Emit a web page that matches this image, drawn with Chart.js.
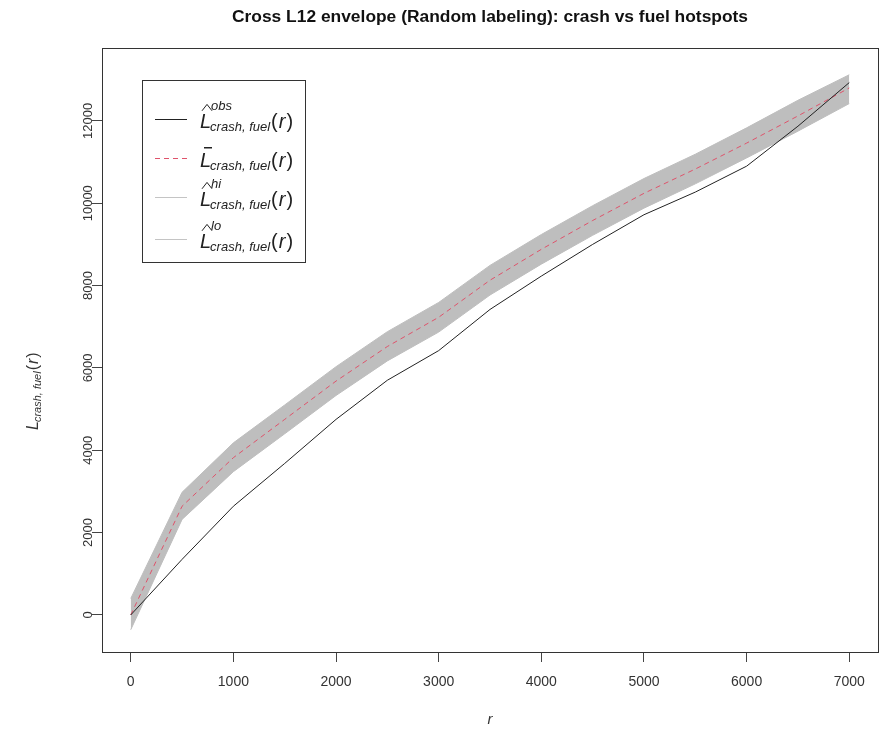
<!DOCTYPE html>
<html>
<head>
<meta charset="utf-8">
<script src="https://cdn.jsdelivr.net/npm/chart.js@4.4.1/dist/chart.umd.min.js"></script>
<style>
  html, body { margin: 0; padding: 0; background: #fff; }
  #wrap { width: 882px; height: 731px; }
</style>
</head>
<body>
<div id="wrap"><canvas id="chart" width="882" height="731"></canvas></div>
<script>
// distance r and the L12 curves
const rValues    = [0, 500, 1000, 1500, 2000, 2500, 3000, 3500, 4000, 4500, 5000, 5500, 6000, 6500, 7000];
const obsValues  = [0, 1350, 2640, 3680, 4750, 5700, 6420, 7420, 8230, 9000, 9720, 10270, 10900, 11870, 12930];
const meanValues = [0, 2640, 3820, 4750, 5680, 6520, 7230, 8130, 8880, 9580, 10240, 10830, 11460, 12120, 12800];
const hiValues   = [400, 2980, 4180, 5100, 6030, 6880, 7590, 8490, 9240, 9940, 10600, 11190, 11830, 12500, 13120];
const loValues   = [-360, 2320, 3480, 4400, 5330, 6170, 6870, 7770, 8520, 9220, 9880, 10470, 11100, 11750, 12420];

const xTicks = [0, 1000, 2000, 3000, 4000, 5000, 6000, 7000];
const yTicks = [0, 2000, 4000, 6000, 8000, 10000, 12000];

const titleText = 'Cross L12 envelope (Random labeling): crash vs fuel hotspots';
const FONT = '"Liberation Sans", Arial, sans-serif';

function pts(ys) {
    return rValues.map((r, i) => ({ x: r, y: ys[i] }));
}

// L with optional hat / bar, superscript, subscript and (r)
function drawL(ctx, x, base, opts) {
    const big = opts.big, small = opts.small;
    ctx.textAlign = 'left';
    ctx.textBaseline = 'alphabetic';
    ctx.font = 'italic ' + big + 'px ' + FONT;
    ctx.fillText('L', x, base);
    const lw = ctx.measureText('L').width;
    let right = x + lw;
    if (opts.sup) {
        ctx.font = 'italic ' + small + 'px ' + FONT;
        ctx.fillText(opts.sup, x + lw * 1.0, base - big * 0.88);
        // hat
        ctx.beginPath();
        ctx.lineWidth = 1;
        ctx.moveTo(x + 2, base - big * 0.86);
        ctx.lineTo(x + 7, base - big * 1.18);
        ctx.lineTo(x + 12, base - big * 0.86);
        ctx.stroke();
    }
    if (opts.bar) {
        ctx.fillRect(x + 4, base - big * 1.0, 8, 1.5);
    }
    ctx.font = 'italic ' + small + 'px ' + FONT;
    ctx.fillText(opts.sub, right - 1, base + small * 0.25);
    right = right - 1 + ctx.measureText(opts.sub).width + 1;
    ctx.font = big + 'px ' + FONT;
    ctx.fillText('(', right, base);
    right += ctx.measureText('(').width;
    ctx.font = 'italic ' + big + 'px ' + FONT;
    ctx.fillText('r', right + 1, base);
    right += ctx.measureText('r').width + 2;
    ctx.font = big + 'px ' + FONT;
    ctx.fillText(')', right, base);
    right += ctx.measureText(')').width;
    return right;
}

const rDecor = {
    id: 'rDecor',
    afterDraw(chart) {
        const ctx = chart.ctx;
        const a = chart.chartArea;
        ctx.save();
        // plot frame
        ctx.strokeStyle = '#333';
        ctx.lineWidth = 1;
        ctx.strokeRect(Math.round(a.left) + 0.5, Math.round(a.top) + 0.5,
            Math.round(a.right - a.left), Math.round(a.bottom - a.top));

        // title
        ctx.fillStyle = '#111';
        ctx.font = 'bold 17.4px ' + FONT;
        ctx.textAlign = 'center';
        ctx.textBaseline = 'alphabetic';
        ctx.fillText(titleText, (a.left + a.right) / 2, 22);

        // x axis title
        ctx.font = 'italic 15px ' + FONT;
        ctx.fillStyle = '#333';
        ctx.fillText('r', (a.left + a.right) / 2, 724);

        // y axis title (rotated)
        ctx.save();
        ctx.translate(38, 385);
        ctx.rotate(-Math.PI / 2);
        ctx.fillStyle = '#333';
        ctx.strokeStyle = '#333';
        drawL(ctx, -45, 0, { big: 16, small: 11, sub: 'crash, fuel' });
        ctx.restore();

        // legend
        ctx.fillStyle = '#fff';
        ctx.fillRect(142, 80, 163, 182);
        ctx.strokeStyle = '#333';
        ctx.strokeRect(142.5, 80.5, 163, 182);
        const rows = [
            { y: 119, color: '#222', dash: [], sup: 'obs' },
            { y: 158, color: '#DF536B', dash: [5, 4], bar: true },
            { y: 197, color: '#c4c4c4', dash: [], sup: 'hi' },
            { y: 239, color: '#c4c4c4', dash: [], sup: 'lo' }
        ];
        rows.forEach(row => {
            ctx.beginPath();
            ctx.strokeStyle = row.color;
            ctx.lineWidth = 1;
            ctx.setLineDash(row.dash);
            ctx.moveTo(155, row.y + 0.5);
            ctx.lineTo(187, row.y + 0.5);
            ctx.stroke();
            ctx.setLineDash([]);
            ctx.fillStyle = '#222';
            ctx.strokeStyle = '#222';
            drawL(ctx, 200, row.y + 9, { big: 20, small: 13, sub: 'crash, fuel', sup: row.sup, bar: row.bar });
        });
        ctx.restore();
    }
};

new Chart(document.getElementById('chart'), {
    type: 'line',
    data: {
        datasets: [
            {
                label: 'obs',
                data: pts(obsValues),
                borderColor: '#222',
                borderWidth: 1,
                pointRadius: 0,
                fill: false,
                order: 0
            },
            {
                label: 'mean',
                data: pts(meanValues),
                borderColor: '#DF536B',
                borderWidth: 1,
                borderDash: [5, 4],
                pointRadius: 0,
                fill: false,
                order: 1
            },
            {
                label: 'hi',
                data: pts(hiValues),
                borderColor: '#bebebe',
                backgroundColor: '#bebebe',
                borderWidth: 1,
                pointRadius: 0,
                fill: '+1',
                order: 2
            },
            {
                label: 'lo',
                data: pts(loValues),
                borderColor: '#bebebe',
                borderWidth: 1,
                pointRadius: 0,
                fill: false,
                order: 3
            }
        ]
    },
    options: {
        responsive: false,
        animation: false,
        devicePixelRatio: 1,
        layout: { padding: { top: 48, right: 4, left: 0, bottom: 0 } },
        plugins: {
            legend: { display: false },
            title: { display: false },
            tooltip: { enabled: false }
        },
        elements: { line: { tension: 0 } },
        scales: {
            x: {
                type: 'linear',
                min: -280,
                max: 7280,
                afterBuildTicks: s => { s.ticks = xTicks.map(v => ({ value: v })); },
                afterFit: s => { s.height = 79; },
                grid: { drawOnChartArea: false, drawTicks: true, tickLength: 10, color: '#444' },
                border: { display: false },
                ticks: {
                    padding: 12,
                    maxRotation: 0,
                    color: '#333',
                    font: { family: FONT, size: 14 },
                    callback: v => String(v)
                }
            },
            y: {
                type: 'linear',
                min: -900,
                max: 13770,
                afterBuildTicks: s => { s.ticks = yTicks.map(v => ({ value: v })); },
                afterFit: s => { s.width = 102; },
                grid: { drawOnChartArea: false, drawTicks: true, tickLength: 10, color: '#444' },
                border: { display: false },
                ticks: {
                    minRotation: 90,
                    maxRotation: 90,
                    crossAlign: 'center',
                    padding: -14,
                    color: '#333',
                    font: { family: FONT, size: 13 },
                    callback: v => String(v)
                }
            }
        }
    },
    plugins: [rDecor]
});
</script>
</body>
</html>
